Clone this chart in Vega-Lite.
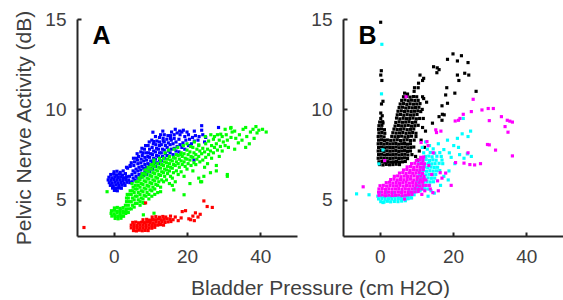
{
"$schema": "https://vega.github.io/schema/vega-lite/v6.json",
"padding": {"left": 13, "top": 9, "right": 0, "bottom": 0},
"bounds": "flush",
"spacing": 46,
"config": {
 "font": "Liberation Sans",
 "view": {"stroke": null},
 "axis": {"grid": false, "domainColor": "#262626", "domainWidth": 2, "tickColor": "#262626", "tickWidth": 2, "tickSize": -4, "labelColor": "#404040", "labelFontSize": 19, "titleColor": "#404040", "titleFontSize": 21, "titleFontWeight": "normal"}
},
"datasets": {
"a": [
{"s":"A1","x":0.1,"y":6.55},{"s":"A1","x":0.9,"y":6.58},{"s":"A1","x":1.8,"y":6.52},{"s":"A1","x":2.6,"y":6.6},
{"s":"A1","x":-0.8,"y":6.4},{"s":"A1","x":0.0,"y":6.43},{"s":"A1","x":0.8,"y":6.38},{"s":"A1","x":1.6,"y":6.42},{"s":"A1","x":2.4,"y":6.37},{"s":"A1","x":3.2,"y":6.45},
{"s":"A1","x":-1.3,"y":6.25},{"s":"A1","x":-0.5,"y":6.22},{"s":"A1","x":0.3,"y":6.27},{"s":"A1","x":1.1,"y":6.24},{"s":"A1","x":1.9,"y":6.26},{"s":"A1","x":2.7,"y":6.22},{"s":"A1","x":3.5,"y":6.28},{"s":"A1","x":4.3,"y":6.3},
{"s":"A1","x":-1.5,"y":6.1},{"s":"A1","x":-0.7,"y":6.08},{"s":"A1","x":0.1,"y":6.12},{"s":"A1","x":0.9,"y":6.09},{"s":"A1","x":1.7,"y":6.11},{"s":"A1","x":2.5,"y":6.07},{"s":"A1","x":3.3,"y":6.12},{"s":"A1","x":4.1,"y":6.1},
{"s":"A1","x":-1.2,"y":5.95},{"s":"A1","x":-0.4,"y":5.93},{"s":"A1","x":0.4,"y":5.97},{"s":"A1","x":1.2,"y":5.94},{"s":"A1","x":2.0,"y":5.96},{"s":"A1","x":2.8,"y":5.92},{"s":"A1","x":3.6,"y":5.97},{"s":"A1","x":4.4,"y":5.95},
{"s":"A1","x":-0.9,"y":5.8},{"s":"A1","x":-0.1,"y":5.78},{"s":"A1","x":0.7,"y":5.82},{"s":"A1","x":1.5,"y":5.79},{"s":"A1","x":2.3,"y":5.81},{"s":"A1","x":3.1,"y":5.8},
{"s":"A1","x":-0.3,"y":5.65},{"s":"A1","x":0.5,"y":5.63},{"s":"A1","x":1.3,"y":5.66},{"s":"A1","x":2.1,"y":5.64},
{"s":"A1","x":0.2,"y":5.52},{"s":"A1","x":1.0,"y":5.5},
{"s":"A1","x":5.0,"y":6.0},{"s":"A1","x":5.3,"y":6.2},{"s":"A1","x":5.0,"y":6.4},{"s":"A1","x":5.3,"y":6.6},
{"s":"A1","x":5.8,"y":6.1},{"s":"A1","x":6.1,"y":6.3},{"s":"A1","x":5.8,"y":6.5},{"s":"A1","x":6.1,"y":6.7},
{"s":"A1","x":6.6,"y":6.2},{"s":"A1","x":6.9,"y":6.4},{"s":"A1","x":6.6,"y":6.6},{"s":"A1","x":6.9,"y":6.8},{"s":"A1","x":6.6,"y":7.0},
{"s":"A1","x":7.4,"y":6.25},{"s":"A1","x":7.7,"y":6.45},{"s":"A1","x":7.4,"y":6.65},{"s":"A1","x":7.7,"y":6.85},{"s":"A1","x":7.4,"y":7.05},
{"s":"A1","x":8.2,"y":6.35},{"s":"A1","x":8.5,"y":6.55},{"s":"A1","x":8.2,"y":6.75},{"s":"A1","x":8.5,"y":6.95},{"s":"A1","x":8.2,"y":7.15},
{"s":"A1","x":9.0,"y":6.4},{"s":"A1","x":9.3,"y":6.6},{"s":"A1","x":9.0,"y":6.8},{"s":"A1","x":9.3,"y":7.0},{"s":"A1","x":9.0,"y":7.2},{"s":"A1","x":9.3,"y":7.4},
{"s":"A1","x":9.8,"y":6.55},{"s":"A1","x":10.1,"y":6.75},{"s":"A1","x":9.8,"y":6.95},{"s":"A1","x":10.1,"y":7.15},{"s":"A1","x":9.8,"y":7.35},{"s":"A1","x":10.1,"y":7.55},
{"s":"A1","x":10.6,"y":6.7},{"s":"A1","x":10.9,"y":6.9},{"s":"A1","x":10.6,"y":7.1},{"s":"A1","x":10.9,"y":7.3},{"s":"A1","x":10.6,"y":7.5},{"s":"A1","x":10.9,"y":7.7},
{"s":"A1","x":11.4,"y":6.85},{"s":"A1","x":11.7,"y":7.05},{"s":"A1","x":11.4,"y":7.25},{"s":"A1","x":11.7,"y":7.45},{"s":"A1","x":11.4,"y":7.65},{"s":"A1","x":11.7,"y":7.85},
{"s":"A1","x":12.2,"y":7.0},{"s":"A1","x":12.5,"y":7.2},{"s":"A1","x":12.2,"y":7.4},{"s":"A1","x":12.5,"y":7.6},{"s":"A1","x":12.2,"y":7.8},{"s":"A1","x":12.5,"y":8.0},
{"s":"A1","x":13.0,"y":7.15},{"s":"A1","x":13.3,"y":7.4},{"s":"A1","x":13.0,"y":7.6},{"s":"A1","x":13.3,"y":7.8},{"s":"A1","x":13.0,"y":8.05},
{"s":"A1","x":13.8,"y":7.3},{"s":"A1","x":14.1,"y":7.55},{"s":"A1","x":13.8,"y":7.75},{"s":"A1","x":14.1,"y":8.0},{"s":"A1","x":13.8,"y":8.2},
{"s":"A1","x":14.6,"y":7.45},{"s":"A1","x":14.9,"y":7.7},{"s":"A1","x":14.6,"y":7.9},{"s":"A1","x":14.9,"y":8.15},
{"s":"A1","x":15.4,"y":7.6},{"s":"A1","x":15.7,"y":7.8},{"s":"A1","x":15.4,"y":8.05},{"s":"A1","x":15.7,"y":8.3},
{"s":"A1","x":16.2,"y":7.5},{"s":"A1","x":16.5,"y":7.85},{"s":"A1","x":16.2,"y":8.1},{"s":"A1","x":16.5,"y":8.4},
{"s":"A1","x":17.0,"y":7.7},{"s":"A1","x":17.3,"y":7.95},{"s":"A1","x":17.0,"y":8.2},
{"s":"A1","x":17.8,"y":7.65},{"s":"A1","x":18.1,"y":8.05},{"s":"A1","x":17.8,"y":8.35},{"s":"A1","x":18.1,"y":8.6},
{"s":"A1","x":18.6,"y":7.9},{"s":"A1","x":18.9,"y":8.15},{"s":"A1","x":18.6,"y":8.75},
{"s":"A1","x":19.4,"y":7.8},{"s":"A1","x":19.7,"y":8.3},{"s":"A1","x":19.4,"y":8.5},
{"s":"A1","x":20.4,"y":8.0},{"s":"A1","x":20.7,"y":8.35},{"s":"A1","x":20.4,"y":8.6},
{"s":"A1","x":21.2,"y":8.1},{"s":"A1","x":21.5,"y":8.45},
{"s":"A1","x":22.0,"y":8.25},{"s":"A1","x":22.3,"y":8.55},{"s":"A1","x":22.0,"y":8.8},
{"s":"A1","x":23.0,"y":8.3},{"s":"A1","x":23.3,"y":8.5},
{"s":"A1","x":24.0,"y":9.1},{"s":"A1","x":24.3,"y":8.6},{"s":"A1","x":24.0,"y":8.85},
{"s":"A1","x":24.8,"y":8.2},{"s":"A1","x":25.1,"y":8.45},{"s":"A1","x":28.6,"y":9.0},
{"s":"A1","x":10.7,"y":8.74},{"s":"A1","x":11.0,"y":8.22},{"s":"A1","x":13.5,"y":8.4},{"s":"A1","x":19.0,"y":8.85},{"s":"A1","x":21.9,"y":7.2},{"s":"A1","x":8.0,"y":7.6},{"s":"A1","x":6.2,"y":7.3},{"s":"A1","x":12.5,"y":8.45},{"s":"A1","x":15.5,"y":8.55},{"s":"A1","x":17.3,"y":8.7},{"s":"A1","x":4.5,"y":6.9},{"s":"A1","x":3.8,"y":6.75},
{"s":"A1","x":3.5,"y":6.8},{"s":"A1","x":4.5,"y":6.85},{"s":"A1","x":4.8,"y":7.05},{"s":"A1","x":5.5,"y":6.9},{"s":"A1","x":5.7,"y":7.1},{"s":"A1","x":5.4,"y":7.3},
{"s":"A1","x":6.5,"y":7.2},{"s":"A1","x":6.8,"y":7.4},{"s":"A1","x":6.4,"y":7.55},{"s":"A1","x":7.5,"y":7.25},{"s":"A1","x":7.8,"y":7.45},{"s":"A1","x":7.4,"y":7.65},{"s":"A1","x":7.7,"y":7.85},
{"s":"A1","x":8.5,"y":7.35},{"s":"A1","x":8.8,"y":7.6},{"s":"A1","x":8.4,"y":7.8},{"s":"A1","x":8.7,"y":8.0},
{"s":"A1","x":9.5,"y":7.6},{"s":"A1","x":9.8,"y":7.8},{"s":"A1","x":9.4,"y":8.0},{"s":"A1","x":9.7,"y":8.2},
{"s":"A1","x":10.5,"y":7.9},{"s":"A1","x":10.8,"y":8.1},{"s":"A1","x":10.4,"y":8.3},{"s":"A1","x":11.5,"y":8.05},{"s":"A1","x":11.8,"y":8.25},{"s":"A1","x":11.4,"y":8.5},
{"s":"A1","x":12.5,"y":8.2},{"s":"A1","x":12.8,"y":8.6},{"s":"A1","x":13.5,"y":8.25},{"s":"A1","x":13.8,"y":8.6},{"s":"A1","x":13.4,"y":8.8},
{"s":"A1","x":14.5,"y":8.35},{"s":"A1","x":14.8,"y":8.55},{"s":"A1","x":15.5,"y":8.4},{"s":"A1","x":15.8,"y":8.75},{"s":"A1","x":16.5,"y":8.6},{"s":"A1","x":16.8,"y":8.9},{"s":"A1","x":18.0,"y":8.8},{"s":"A1","x":20.0,"y":8.75},

{"s":"A2","x":0.2,"y":4.55},{"s":"A2","x":1.0,"y":4.58},{"s":"A2","x":1.8,"y":4.53},{"s":"A2","x":2.6,"y":4.57},
{"s":"A2","x":-0.6,"y":4.4},{"s":"A2","x":0.2,"y":4.42},{"s":"A2","x":1.0,"y":4.38},{"s":"A2","x":1.8,"y":4.41},{"s":"A2","x":2.6,"y":4.39},{"s":"A2","x":3.4,"y":4.43},
{"s":"A2","x":-0.7,"y":4.25},{"s":"A2","x":0.1,"y":4.23},{"s":"A2","x":0.9,"y":4.27},{"s":"A2","x":1.7,"y":4.24},{"s":"A2","x":2.5,"y":4.26},{"s":"A2","x":3.3,"y":4.25},
{"s":"A2","x":-0.5,"y":4.1},{"s":"A2","x":0.3,"y":4.12},{"s":"A2","x":1.1,"y":4.08},{"s":"A2","x":1.9,"y":4.11},{"s":"A2","x":2.7,"y":4.09},
{"s":"A2","x":0.4,"y":3.97},{"s":"A2","x":1.2,"y":3.95},{"s":"A2","x":2.0,"y":3.98},
{"s":"A2","x":3.2,"y":4.3},{"s":"A2","x":3.5,"y":4.5},{"s":"A2","x":3.2,"y":4.7},{"s":"A2","x":3.5,"y":4.9},
{"s":"A2","x":4.0,"y":4.3},{"s":"A2","x":4.3,"y":4.5},{"s":"A2","x":4.0,"y":4.7},{"s":"A2","x":4.3,"y":4.9},{"s":"A2","x":4.0,"y":5.1},
{"s":"A2","x":4.8,"y":4.5},{"s":"A2","x":5.1,"y":4.7},{"s":"A2","x":4.8,"y":4.9},{"s":"A2","x":5.1,"y":5.1},{"s":"A2","x":4.8,"y":5.3},
{"s":"A2","x":5.6,"y":4.6},{"s":"A2","x":5.9,"y":4.8},{"s":"A2","x":5.6,"y":5.0},{"s":"A2","x":5.9,"y":5.2},{"s":"A2","x":5.6,"y":5.4},{"s":"A2","x":5.9,"y":5.6},
{"s":"A2","x":6.4,"y":4.8},{"s":"A2","x":6.7,"y":5.0},{"s":"A2","x":6.4,"y":5.2},{"s":"A2","x":6.7,"y":5.4},{"s":"A2","x":6.4,"y":5.6},{"s":"A2","x":6.7,"y":5.8},
{"s":"A2","x":7.2,"y":4.9},{"s":"A2","x":7.5,"y":5.1},{"s":"A2","x":7.2,"y":5.3},{"s":"A2","x":7.5,"y":5.5},{"s":"A2","x":7.2,"y":5.7},{"s":"A2","x":7.5,"y":5.9},{"s":"A2","x":7.2,"y":6.1},
{"s":"A2","x":8.0,"y":5.05},{"s":"A2","x":8.3,"y":5.25},{"s":"A2","x":8.0,"y":5.45},{"s":"A2","x":8.3,"y":5.65},{"s":"A2","x":8.0,"y":5.85},{"s":"A2","x":8.3,"y":6.05},{"s":"A2","x":8.0,"y":6.25},
{"s":"A2","x":8.8,"y":5.2},{"s":"A2","x":9.1,"y":5.4},{"s":"A2","x":8.8,"y":5.6},{"s":"A2","x":9.1,"y":5.8},{"s":"A2","x":8.8,"y":6.0},{"s":"A2","x":9.1,"y":6.2},{"s":"A2","x":8.8,"y":6.4},
{"s":"A2","x":9.6,"y":5.3},{"s":"A2","x":9.9,"y":5.55},{"s":"A2","x":9.6,"y":5.75},{"s":"A2","x":9.9,"y":5.95},{"s":"A2","x":9.6,"y":6.15},{"s":"A2","x":9.9,"y":6.35},{"s":"A2","x":9.6,"y":6.55},
{"s":"A2","x":10.4,"y":5.5},{"s":"A2","x":10.7,"y":5.7},{"s":"A2","x":10.4,"y":5.9},{"s":"A2","x":10.7,"y":6.1},{"s":"A2","x":10.4,"y":6.3},{"s":"A2","x":10.7,"y":6.5},{"s":"A2","x":10.4,"y":6.7},
{"s":"A2","x":11.2,"y":5.6},{"s":"A2","x":11.5,"y":5.85},{"s":"A2","x":11.2,"y":6.05},{"s":"A2","x":11.5,"y":6.25},{"s":"A2","x":11.2,"y":6.45},{"s":"A2","x":11.5,"y":6.65},{"s":"A2","x":11.2,"y":6.85},
{"s":"A2","x":12.0,"y":5.8},{"s":"A2","x":12.3,"y":6.0},{"s":"A2","x":12.0,"y":6.2},{"s":"A2","x":12.3,"y":6.4},{"s":"A2","x":12.0,"y":6.6},{"s":"A2","x":12.3,"y":6.8},{"s":"A2","x":12.0,"y":7.0},
{"s":"A2","x":12.8,"y":5.7},{"s":"A2","x":13.1,"y":6.1},{"s":"A2","x":12.8,"y":6.35},{"s":"A2","x":13.1,"y":6.55},{"s":"A2","x":12.8,"y":6.75},{"s":"A2","x":13.1,"y":6.95},{"s":"A2","x":12.8,"y":7.15},
{"s":"A2","x":13.6,"y":6.0},{"s":"A2","x":13.9,"y":6.3},{"s":"A2","x":13.6,"y":6.5},{"s":"A2","x":13.9,"y":6.7},{"s":"A2","x":13.6,"y":6.9},{"s":"A2","x":13.9,"y":7.1},{"s":"A2","x":13.6,"y":7.3},
{"s":"A2","x":14.4,"y":6.1},{"s":"A2","x":14.7,"y":6.45},{"s":"A2","x":14.4,"y":6.65},{"s":"A2","x":14.7,"y":6.85},{"s":"A2","x":14.4,"y":7.05},{"s":"A2","x":14.7,"y":7.25},
{"s":"A2","x":15.2,"y":5.9},{"s":"A2","x":15.5,"y":6.3},{"s":"A2","x":15.2,"y":6.6},{"s":"A2","x":15.5,"y":6.8},{"s":"A2","x":15.2,"y":7.0},{"s":"A2","x":15.5,"y":7.2},{"s":"A2","x":15.2,"y":7.4},
{"s":"A2","x":16.0,"y":6.2},{"s":"A2","x":16.3,"y":6.5},{"s":"A2","x":16.0,"y":6.75},{"s":"A2","x":16.3,"y":6.95},{"s":"A2","x":16.0,"y":7.15},{"s":"A2","x":16.3,"y":7.35},
{"s":"A2","x":16.8,"y":6.0},{"s":"A2","x":17.1,"y":6.6},{"s":"A2","x":16.8,"y":6.9},{"s":"A2","x":17.1,"y":7.1},{"s":"A2","x":16.8,"y":7.3},{"s":"A2","x":17.1,"y":7.5},
{"s":"A2","x":17.6,"y":6.4},{"s":"A2","x":17.9,"y":6.8},{"s":"A2","x":17.6,"y":7.0},{"s":"A2","x":17.9,"y":7.25},{"s":"A2","x":17.6,"y":7.45},
{"s":"A2","x":18.4,"y":6.55},{"s":"A2","x":18.7,"y":6.95},{"s":"A2","x":18.4,"y":7.15},{"s":"A2","x":18.7,"y":7.4},{"s":"A2","x":18.4,"y":7.6},
{"s":"A2","x":19.2,"y":6.3},{"s":"A2","x":19.5,"y":6.85},{"s":"A2","x":19.2,"y":7.1},{"s":"A2","x":19.5,"y":7.3},{"s":"A2","x":19.2,"y":7.55},
{"s":"A2","x":20.0,"y":6.7},{"s":"A2","x":20.3,"y":7.0},{"s":"A2","x":20.0,"y":7.25},{"s":"A2","x":20.3,"y":7.5},{"s":"A2","x":20.0,"y":7.75},
{"s":"A2","x":20.8,"y":5.9},{"s":"A2","x":21.1,"y":6.9},{"s":"A2","x":20.8,"y":7.2},{"s":"A2","x":21.1,"y":7.4},{"s":"A2","x":20.8,"y":7.65},
{"s":"A2","x":21.6,"y":6.6},{"s":"A2","x":21.9,"y":7.05},{"s":"A2","x":21.6,"y":7.35},{"s":"A2","x":21.9,"y":7.6},{"s":"A2","x":21.6,"y":7.9},
{"s":"A2","x":22.4,"y":6.95},{"s":"A2","x":22.7,"y":7.25},{"s":"A2","x":22.4,"y":7.5},{"s":"A2","x":22.7,"y":7.8},
{"s":"A2","x":23.2,"y":6.2},{"s":"A2","x":23.5,"y":7.1},{"s":"A2","x":23.2,"y":7.4},{"s":"A2","x":23.5,"y":7.7},{"s":"A2","x":23.2,"y":8.0},
{"s":"A2","x":24.0,"y":6.0},{"s":"A2","x":24.3,"y":7.2},{"s":"A2","x":24.0,"y":7.55},{"s":"A2","x":24.3,"y":7.85},
{"s":"A2","x":24.8,"y":6.8},{"s":"A2","x":25.1,"y":7.35},{"s":"A2","x":24.8,"y":7.65},{"s":"A2","x":25.1,"y":8.1},
{"s":"A2","x":25.6,"y":7.0},{"s":"A2","x":25.9,"y":7.5},{"s":"A2","x":25.6,"y":7.8},{"s":"A2","x":25.9,"y":8.25},
{"s":"A2","x":26.4,"y":6.5},{"s":"A2","x":26.7,"y":7.3},{"s":"A2","x":26.4,"y":7.7},{"s":"A2","x":26.7,"y":8.0},
{"s":"A2","x":27.2,"y":7.6},{"s":"A2","x":27.5,"y":7.9},{"s":"A2","x":27.2,"y":8.35},
{"s":"A2","x":28.0,"y":6.9},{"s":"A2","x":28.3,"y":7.75},{"s":"A2","x":28.0,"y":8.1},{"s":"A2","x":28.3,"y":8.6},
{"s":"A2","x":28.8,"y":7.4},{"s":"A2","x":29.1,"y":7.95},{"s":"A2","x":28.8,"y":8.3},
{"s":"A2","x":29.6,"y":7.7},{"s":"A2","x":29.9,"y":8.2},{"s":"A2","x":29.6,"y":8.5},
{"s":"A2","x":30.4,"y":8.0},{"s":"A2","x":30.7,"y":8.6},{"s":"A2","x":30.4,"y":8.9},
{"s":"A2","x":31.0,"y":6.4},{"s":"A2","x":31.3,"y":7.9},{"s":"A2","x":31.0,"y":8.3},
{"s":"A2","x":32.0,"y":8.45},{"s":"A2","x":32.3,"y":8.75},{"s":"A2","x":32.0,"y":9.0},
{"s":"A2","x":33.0,"y":7.8},{"s":"A2","x":33.3,"y":8.4},{"s":"A2","x":33.0,"y":8.8},
{"s":"A2","x":34.0,"y":8.15},{"s":"A2","x":34.3,"y":8.6},{"s":"A2","x":35.0,"y":8.3},{"s":"A2","x":35.3,"y":8.9},
{"s":"A2","x":36.0,"y":7.9},{"s":"A2","x":36.3,"y":8.5},{"s":"A2","x":36.0,"y":9.0},
{"s":"A2","x":37.0,"y":8.1},{"s":"A2","x":37.3,"y":8.75},{"s":"A2","x":38.0,"y":8.9},{"s":"A2","x":38.3,"y":8.4},
{"s":"A2","x":38.8,"y":9.05},{"s":"A2","x":39.1,"y":8.7},{"s":"A2","x":39.6,"y":8.85},{"s":"A2","x":40.6,"y":8.9},{"s":"A2","x":41.6,"y":8.75},
{"s":"A2","x":-1.8,"y":5.45},{"s":"A2","x":8.1,"y":4.17},{"s":"A2","x":8.3,"y":4.8},{"s":"A2","x":11.0,"y":4.26},{"s":"A2","x":16.4,"y":5.55},{"s":"A2","x":16.0,"y":5.8},{"s":"A2","x":19.2,"y":5.28},{"s":"A2","x":23.7,"y":6.0},{"s":"A2","x":24.6,"y":6.3},{"s":"A2","x":31.0,"y":6.3},{"s":"A2","x":28.0,"y":6.6},{"s":"A2","x":21.0,"y":7.95},{"s":"A2","x":23.2,"y":8.04},{"s":"A2","x":18.3,"y":7.5},{"s":"A2","x":29.2,"y":8.63},{"s":"A2","x":27.5,"y":8.5},{"s":"A2","x":31.9,"y":8.96},
{"s":"A2","x":14.0,"y":7.6},{"s":"A2","x":15.0,"y":7.75},{"s":"A2","x":16.5,"y":7.8},{"s":"A2","x":17.5,"y":7.9},{"s":"A2","x":19.0,"y":8.0},{"s":"A2","x":20.0,"y":8.1},{"s":"A2","x":22.0,"y":8.2},{"s":"A2","x":25.0,"y":8.5},{"s":"A2","x":26.5,"y":8.6},{"s":"A2","x":12.5,"y":7.3},{"s":"A2","x":11.0,"y":7.2},
{"s":"A2","x":3.5,"y":5.1},{"s":"A2","x":3.7,"y":5.3},{"s":"A2","x":4.3,"y":5.3},{"s":"A2","x":4.5,"y":5.5},{"s":"A2","x":5.1,"y":5.5},{"s":"A2","x":5.3,"y":5.7},{"s":"A2","x":5.0,"y":5.9},
{"s":"A2","x":5.9,"y":5.8},{"s":"A2","x":6.1,"y":6.0},{"s":"A2","x":6.7,"y":6.0},{"s":"A2","x":6.9,"y":6.2},{"s":"A2","x":7.5,"y":6.3},{"s":"A2","x":7.8,"y":6.45},
{"s":"A2","x":8.3,"y":6.45},{"s":"A2","x":8.6,"y":6.65},{"s":"A2","x":9.1,"y":6.6},{"s":"A2","x":9.4,"y":6.8},{"s":"A2","x":9.9,"y":6.75},{"s":"A2","x":10.2,"y":6.95},{"s":"A2","x":10.7,"y":6.9},{"s":"A2","x":11.0,"y":7.05},
{"s":"A2","x":7.2,"y":4.7},{"s":"A2","x":8.0,"y":4.85},{"s":"A2","x":9.6,"y":5.05},{"s":"A2","x":10.4,"y":5.2},{"s":"A2","x":11.2,"y":5.3},{"s":"A2","x":12.0,"y":5.4},{"s":"A2","x":12.8,"y":5.45},

{"s":"A3","x":5.4,"y":3.3},{"s":"A3","x":6.2,"y":3.28},{"s":"A3","x":7.0,"y":3.32},{"s":"A3","x":7.8,"y":3.29},{"s":"A3","x":8.6,"y":3.31},{"s":"A3","x":9.4,"y":3.3},
{"s":"A3","x":4.8,"y":3.45},{"s":"A3","x":5.6,"y":3.47},{"s":"A3","x":6.4,"y":3.43},{"s":"A3","x":7.2,"y":3.46},{"s":"A3","x":8.0,"y":3.44},{"s":"A3","x":8.8,"y":3.47},{"s":"A3","x":9.6,"y":3.45},{"s":"A3","x":10.4,"y":3.43},{"s":"A3","x":11.2,"y":3.48},
{"s":"A3","x":4.8,"y":3.6},{"s":"A3","x":5.6,"y":3.62},{"s":"A3","x":6.4,"y":3.58},{"s":"A3","x":7.2,"y":3.61},{"s":"A3","x":8.0,"y":3.59},{"s":"A3","x":8.8,"y":3.62},{"s":"A3","x":9.6,"y":3.6},{"s":"A3","x":10.4,"y":3.58},{"s":"A3","x":11.2,"y":3.62},{"s":"A3","x":12.0,"y":3.6},{"s":"A3","x":12.8,"y":3.63},{"s":"A3","x":13.6,"y":3.6},
{"s":"A3","x":5.2,"y":3.75},{"s":"A3","x":6.0,"y":3.77},{"s":"A3","x":6.8,"y":3.73},{"s":"A3","x":7.6,"y":3.76},{"s":"A3","x":8.4,"y":3.74},{"s":"A3","x":9.2,"y":3.77},{"s":"A3","x":10.0,"y":3.75},{"s":"A3","x":10.8,"y":3.73},{"s":"A3","x":11.6,"y":3.77},{"s":"A3","x":12.4,"y":3.75},{"s":"A3","x":13.2,"y":3.78},{"s":"A3","x":14.0,"y":3.75},{"s":"A3","x":14.8,"y":3.78},{"s":"A3","x":15.6,"y":3.8},
{"s":"A3","x":8.0,"y":3.9},{"s":"A3","x":9.0,"y":3.92},{"s":"A3","x":9.8,"y":3.88},{"s":"A3","x":10.6,"y":3.91},{"s":"A3","x":11.4,"y":3.9},{"s":"A3","x":12.2,"y":3.93},{"s":"A3","x":13.0,"y":3.9},{"s":"A3","x":13.8,"y":3.92},{"s":"A3","x":14.6,"y":3.95},{"s":"A3","x":15.4,"y":3.93},{"s":"A3","x":16.2,"y":3.9},
{"s":"A3","x":10.5,"y":4.05},{"s":"A3","x":11.5,"y":4.07},{"s":"A3","x":12.5,"y":4.04},{"s":"A3","x":13.4,"y":4.08},{"s":"A3","x":14.2,"y":4.05},{"s":"A3","x":15.5,"y":4.1},{"s":"A3","x":16.8,"y":4.05},
{"s":"A3","x":17.6,"y":3.85},{"s":"A3","x":18.4,"y":4.0},{"s":"A3","x":18.7,"y":4.35},{"s":"A3","x":19.6,"y":4.4},{"s":"A3","x":20.5,"y":3.95},{"s":"A3","x":21.0,"y":3.9},{"s":"A3","x":21.6,"y":4.1},{"s":"A3","x":22.3,"y":4.28},{"s":"A3","x":23.0,"y":4.05},{"s":"A3","x":23.6,"y":4.2},{"s":"A3","x":24.6,"y":4.94},{"s":"A3","x":25.5,"y":4.63},{"s":"A3","x":26.9,"y":4.58},{"s":"A3","x":22.0,"y":3.85},
{"s":"A3","x":-8.1,"y":3.47},{"s":"A3","x":8.7,"y":4.83}
],
"b": [
{"s":"B1","x":6.5,"y":10.7},{"s":"B1","x":7.4,"y":10.72},{"s":"B1","x":8.3,"y":10.68},{"s":"B1","x":9.2,"y":10.71},{"s":"B1","x":10.1,"y":10.7},
{"s":"B1","x":6.0,"y":10.5},{"s":"B1","x":6.9,"y":10.52},{"s":"B1","x":7.8,"y":10.48},{"s":"B1","x":8.7,"y":10.51},{"s":"B1","x":9.6,"y":10.49},{"s":"B1","x":10.5,"y":10.5},
{"s":"B1","x":5.6,"y":10.3},{"s":"B1","x":6.5,"y":10.32},{"s":"B1","x":7.4,"y":10.28},{"s":"B1","x":8.3,"y":10.31},{"s":"B1","x":9.2,"y":10.29},{"s":"B1","x":10.1,"y":10.3},{"s":"B1","x":11.0,"y":10.32},
{"s":"B1","x":5.3,"y":10.1},{"s":"B1","x":6.2,"y":10.12},{"s":"B1","x":7.1,"y":10.08},{"s":"B1","x":8.0,"y":10.11},{"s":"B1","x":8.9,"y":10.09},{"s":"B1","x":9.8,"y":10.1},{"s":"B1","x":10.7,"y":10.12},
{"s":"B1","x":5.0,"y":9.9},{"s":"B1","x":5.9,"y":9.92},{"s":"B1","x":6.8,"y":9.88},{"s":"B1","x":7.7,"y":9.91},{"s":"B1","x":8.6,"y":9.89},{"s":"B1","x":9.5,"y":9.9},{"s":"B1","x":10.4,"y":9.92},{"s":"B1","x":11.2,"y":9.88},
{"s":"B1","x":4.8,"y":9.7},{"s":"B1","x":5.7,"y":9.72},{"s":"B1","x":6.6,"y":9.68},{"s":"B1","x":7.5,"y":9.71},{"s":"B1","x":8.4,"y":9.69},{"s":"B1","x":9.3,"y":9.7},{"s":"B1","x":10.2,"y":9.72},
{"s":"B1","x":0.3,"y":9.5},{"s":"B1","x":4.6,"y":9.52},{"s":"B1","x":5.5,"y":9.48},{"s":"B1","x":6.4,"y":9.51},{"s":"B1","x":7.3,"y":9.49},{"s":"B1","x":8.2,"y":9.5},{"s":"B1","x":9.1,"y":9.52},{"s":"B1","x":10.0,"y":9.48},{"s":"B1","x":10.9,"y":9.5},
{"s":"B1","x":0.0,"y":9.3},{"s":"B1","x":0.8,"y":9.32},{"s":"B1","x":4.4,"y":9.28},{"s":"B1","x":5.3,"y":9.31},{"s":"B1","x":6.2,"y":9.29},{"s":"B1","x":7.1,"y":9.3},{"s":"B1","x":8.0,"y":9.32},{"s":"B1","x":8.9,"y":9.28},{"s":"B1","x":9.8,"y":9.3},
{"s":"B1","x":-0.2,"y":9.1},{"s":"B1","x":0.6,"y":9.12},{"s":"B1","x":4.2,"y":9.08},{"s":"B1","x":5.1,"y":9.11},{"s":"B1","x":6.0,"y":9.09},{"s":"B1","x":6.9,"y":9.1},{"s":"B1","x":7.8,"y":9.12},{"s":"B1","x":8.7,"y":9.08},{"s":"B1","x":9.6,"y":9.1},{"s":"B1","x":10.5,"y":9.12},
{"s":"B1","x":-0.3,"y":8.9},{"s":"B1","x":0.5,"y":8.92},{"s":"B1","x":1.3,"y":8.88},{"s":"B1","x":3.9,"y":8.91},{"s":"B1","x":4.8,"y":8.89},{"s":"B1","x":5.7,"y":8.9},{"s":"B1","x":6.6,"y":8.92},{"s":"B1","x":7.5,"y":8.88},{"s":"B1","x":8.4,"y":8.9},{"s":"B1","x":9.3,"y":8.92},
{"s":"B1","x":-0.2,"y":8.7},{"s":"B1","x":0.6,"y":8.72},{"s":"B1","x":1.4,"y":8.68},{"s":"B1","x":3.6,"y":8.71},{"s":"B1","x":4.5,"y":8.69},{"s":"B1","x":5.4,"y":8.7},{"s":"B1","x":6.3,"y":8.72},{"s":"B1","x":7.2,"y":8.68},{"s":"B1","x":8.1,"y":8.7},{"s":"B1","x":9.0,"y":8.72},{"s":"B1","x":9.9,"y":8.68},
{"s":"B1","x":-0.4,"y":8.5},{"s":"B1","x":0.4,"y":8.52},{"s":"B1","x":1.2,"y":8.48},{"s":"B1","x":3.3,"y":8.51},{"s":"B1","x":4.2,"y":8.49},{"s":"B1","x":5.1,"y":8.5},{"s":"B1","x":6.0,"y":8.52},{"s":"B1","x":6.9,"y":8.48},{"s":"B1","x":7.8,"y":8.5},{"s":"B1","x":8.7,"y":8.52},
{"s":"B1","x":-0.3,"y":8.3},{"s":"B1","x":0.5,"y":8.32},{"s":"B1","x":1.3,"y":8.28},{"s":"B1","x":2.1,"y":8.31},{"s":"B1","x":3.0,"y":8.29},{"s":"B1","x":3.9,"y":8.3},{"s":"B1","x":4.8,"y":8.32},{"s":"B1","x":5.7,"y":8.28},{"s":"B1","x":6.6,"y":8.3},{"s":"B1","x":7.5,"y":8.32},{"s":"B1","x":8.4,"y":8.28},{"s":"B1","x":9.4,"y":8.3},
{"s":"B1","x":-0.4,"y":8.1},{"s":"B1","x":0.4,"y":8.12},{"s":"B1","x":1.2,"y":8.08},{"s":"B1","x":2.0,"y":8.11},{"s":"B1","x":2.8,"y":8.09},{"s":"B1","x":3.6,"y":8.1},{"s":"B1","x":4.4,"y":8.12},{"s":"B1","x":5.2,"y":8.08},{"s":"B1","x":6.0,"y":8.1},{"s":"B1","x":6.8,"y":8.12},{"s":"B1","x":7.6,"y":8.08},{"s":"B1","x":8.4,"y":8.1},
{"s":"B1","x":-0.3,"y":7.9},{"s":"B1","x":0.5,"y":7.92},{"s":"B1","x":1.3,"y":7.88},{"s":"B1","x":2.1,"y":7.91},{"s":"B1","x":2.9,"y":7.89},{"s":"B1","x":3.7,"y":7.9},{"s":"B1","x":4.5,"y":7.92},{"s":"B1","x":5.3,"y":7.88},{"s":"B1","x":6.1,"y":7.9},{"s":"B1","x":6.9,"y":7.92},{"s":"B1","x":7.7,"y":7.88},{"s":"B1","x":8.5,"y":7.9},{"s":"B1","x":9.3,"y":7.92},
{"s":"B1","x":-0.4,"y":7.7},{"s":"B1","x":0.4,"y":7.72},{"s":"B1","x":1.2,"y":7.68},{"s":"B1","x":2.0,"y":7.71},{"s":"B1","x":2.8,"y":7.69},{"s":"B1","x":3.6,"y":7.7},{"s":"B1","x":4.4,"y":7.72},{"s":"B1","x":5.2,"y":7.68},{"s":"B1","x":6.0,"y":7.7},{"s":"B1","x":6.8,"y":7.72},{"s":"B1","x":7.6,"y":7.68},{"s":"B1","x":8.4,"y":7.7},
{"s":"B1","x":-0.3,"y":7.5},{"s":"B1","x":0.5,"y":7.52},{"s":"B1","x":1.3,"y":7.48},{"s":"B1","x":2.1,"y":7.51},{"s":"B1","x":2.9,"y":7.49},{"s":"B1","x":3.7,"y":7.5},{"s":"B1","x":4.5,"y":7.52},{"s":"B1","x":5.3,"y":7.48},{"s":"B1","x":6.1,"y":7.5},{"s":"B1","x":6.9,"y":7.52},{"s":"B1","x":7.7,"y":7.48},{"s":"B1","x":8.8,"y":7.5},
{"s":"B1","x":-0.4,"y":7.3},{"s":"B1","x":0.4,"y":7.32},{"s":"B1","x":1.2,"y":7.28},{"s":"B1","x":2.0,"y":7.31},{"s":"B1","x":2.8,"y":7.29},{"s":"B1","x":3.6,"y":7.3},{"s":"B1","x":4.4,"y":7.32},{"s":"B1","x":5.2,"y":7.28},{"s":"B1","x":6.0,"y":7.3},{"s":"B1","x":6.8,"y":7.32},{"s":"B1","x":7.6,"y":7.28},
{"s":"B1","x":-0.2,"y":7.1},{"s":"B1","x":0.6,"y":7.12},{"s":"B1","x":1.4,"y":7.08},{"s":"B1","x":2.2,"y":7.11},{"s":"B1","x":3.0,"y":7.09},{"s":"B1","x":3.8,"y":7.1},{"s":"B1","x":4.6,"y":7.12},{"s":"B1","x":5.4,"y":7.08},{"s":"B1","x":6.2,"y":7.1},{"s":"B1","x":7.0,"y":7.12},
{"s":"B1","x":0.0,"y":6.95},{"s":"B1","x":0.9,"y":6.93},{"s":"B1","x":1.8,"y":6.96},{"s":"B1","x":2.7,"y":6.94},{"s":"B1","x":3.6,"y":6.95},{"s":"B1","x":4.5,"y":6.97},{"s":"B1","x":5.4,"y":6.95},
{"s":"B1","x":0.27,"y":14.82},{"s":"B1","x":0.45,"y":12.14},{"s":"B1","x":0.3,"y":11.9},{"s":"B1","x":0.6,"y":11.6},{"s":"B1","x":0.9,"y":10.45},{"s":"B1","x":0.5,"y":10.3},{"s":"B1","x":0.3,"y":9.8},{"s":"B1","x":0.7,"y":9.65},{"s":"B1","x":0.9,"y":9.25},
{"s":"B1","x":20.0,"y":13.07},{"s":"B1","x":22.3,"y":12.97},{"s":"B1","x":18.5,"y":12.77},{"s":"B1","x":24.1,"y":12.59},{"s":"B1","x":21.2,"y":12.68},{"s":"B1","x":14.7,"y":12.36},{"s":"B1","x":15.7,"y":12.3},{"s":"B1","x":16.2,"y":12.2},{"s":"B1","x":15.6,"y":12.03},{"s":"B1","x":21.2,"y":11.9},{"s":"B1","x":23.2,"y":12.0},{"s":"B1","x":24.3,"y":11.9},{"s":"B1","x":21.6,"y":11.6},
{"s":"B1","x":11.0,"y":11.9},{"s":"B1","x":12.0,"y":11.72},{"s":"B1","x":11.7,"y":11.6},{"s":"B1","x":10.6,"y":11.45},{"s":"B1","x":9.5,"y":11.2},{"s":"B1","x":9.4,"y":11.0},{"s":"B1","x":10.5,"y":11.2},
{"s":"B1","x":18.3,"y":11.2},{"s":"B1","x":18.0,"y":10.8},{"s":"B1","x":20.5,"y":10.9},{"s":"B1","x":26.3,"y":11.0},{"s":"B1","x":18.5,"y":10.34},{"s":"B1","x":17.0,"y":10.2},{"s":"B1","x":17.1,"y":9.73},{"s":"B1","x":16.2,"y":9.6},{"s":"B1","x":14.4,"y":9.24},
{"s":"B1","x":12.0,"y":10.6},{"s":"B1","x":12.8,"y":10.4},{"s":"B1","x":6.8,"y":10.9},{"s":"B1","x":7.6,"y":10.85},{"s":"B1","x":11.7,"y":10.7},{"s":"B1","x":17.6,"y":9.7},{"s":"B1","x":17.0,"y":9.4},{"s":"B1","x":11.7,"y":9.0},{"s":"B1","x":9.9,"y":8.5},{"s":"B1","x":12.5,"y":8.8},{"s":"B1","x":11.3,"y":8.3},{"s":"B1","x":10.8,"y":7.7},{"s":"B1","x":9.8,"y":7.4},{"s":"B1","x":10.4,"y":7.2},{"s":"B1","x":12.2,"y":7.9},{"s":"B1","x":11.6,"y":10.0},{"s":"B1","x":11.9,"y":9.5},

{"s":"B2","x":0.3,"y":4.9},{"s":"B2","x":1.2,"y":4.88},{"s":"B2","x":2.1,"y":4.92},{"s":"B2","x":3.0,"y":4.89},{"s":"B2","x":4.0,"y":4.91},{"s":"B2","x":5.0,"y":4.9},{"s":"B2","x":6.0,"y":4.93},{"s":"B2","x":7.0,"y":4.95},
{"s":"B2","x":-0.3,"y":5.05},{"s":"B2","x":0.6,"y":5.07},{"s":"B2","x":1.5,"y":5.03},{"s":"B2","x":2.4,"y":5.06},{"s":"B2","x":3.3,"y":5.04},{"s":"B2","x":4.2,"y":5.05},{"s":"B2","x":5.1,"y":5.07},{"s":"B2","x":6.0,"y":5.03},{"s":"B2","x":6.9,"y":5.06},{"s":"B2","x":7.8,"y":5.08},{"s":"B2","x":8.7,"y":5.1},
{"s":"B2","x":-0.5,"y":5.2},{"s":"B2","x":0.4,"y":5.22},{"s":"B2","x":1.3,"y":5.18},{"s":"B2","x":2.2,"y":5.21},{"s":"B2","x":3.1,"y":5.19},{"s":"B2","x":4.0,"y":5.2},{"s":"B2","x":4.9,"y":5.22},{"s":"B2","x":5.8,"y":5.18},{"s":"B2","x":6.7,"y":5.21},{"s":"B2","x":7.6,"y":5.23},{"s":"B2","x":8.5,"y":5.25},{"s":"B2","x":9.4,"y":5.28},
{"s":"B2","x":0.0,"y":5.4},{"s":"B2","x":2.0,"y":5.42},{"s":"B2","x":4.0,"y":5.4},{"s":"B2","x":6.0,"y":5.43},{"s":"B2","x":8.0,"y":5.45},{"s":"B2","x":9.0,"y":5.42},{"s":"B2","x":10.0,"y":5.45},{"s":"B2","x":11.0,"y":5.5},
{"s":"B2","x":9.5,"y":5.6},{"s":"B2","x":10.4,"y":5.62},{"s":"B2","x":11.3,"y":5.58},{"s":"B2","x":12.2,"y":5.61},{"s":"B2","x":13.1,"y":5.6},
{"s":"B2","x":10.0,"y":5.8},{"s":"B2","x":10.9,"y":5.82},{"s":"B2","x":11.8,"y":5.78},{"s":"B2","x":12.7,"y":5.81},{"s":"B2","x":13.6,"y":5.8},
{"s":"B2","x":10.2,"y":6.0},{"s":"B2","x":11.1,"y":6.02},{"s":"B2","x":12.0,"y":5.98},{"s":"B2","x":12.9,"y":6.01},{"s":"B2","x":13.8,"y":5.99},{"s":"B2","x":14.7,"y":6.0},
{"s":"B2","x":10.5,"y":6.2},{"s":"B2","x":11.4,"y":6.22},{"s":"B2","x":12.3,"y":6.18},{"s":"B2","x":13.2,"y":6.21},{"s":"B2","x":14.1,"y":6.19},{"s":"B2","x":15.0,"y":6.2},
{"s":"B2","x":10.8,"y":6.4},{"s":"B2","x":11.7,"y":6.42},{"s":"B2","x":12.6,"y":6.38},{"s":"B2","x":13.5,"y":6.41},{"s":"B2","x":14.4,"y":6.39},{"s":"B2","x":15.3,"y":6.4},
{"s":"B2","x":11.0,"y":6.6},{"s":"B2","x":11.9,"y":6.62},{"s":"B2","x":12.8,"y":6.58},{"s":"B2","x":13.7,"y":6.61},{"s":"B2","x":14.6,"y":6.59},{"s":"B2","x":15.5,"y":6.6},{"s":"B2","x":16.4,"y":6.62},
{"s":"B2","x":11.3,"y":6.8},{"s":"B2","x":12.2,"y":6.82},{"s":"B2","x":13.1,"y":6.78},{"s":"B2","x":14.0,"y":6.81},{"s":"B2","x":14.9,"y":6.79},{"s":"B2","x":15.8,"y":6.8},
{"s":"B2","x":10.6,"y":7.0},{"s":"B2","x":11.5,"y":7.02},{"s":"B2","x":12.4,"y":6.98},{"s":"B2","x":13.3,"y":7.01},{"s":"B2","x":14.2,"y":6.99},{"s":"B2","x":15.1,"y":7.0},{"s":"B2","x":16.2,"y":7.02},
{"s":"B2","x":11.8,"y":7.2},{"s":"B2","x":12.7,"y":7.22},{"s":"B2","x":13.6,"y":7.18},{"s":"B2","x":14.5,"y":7.21},{"s":"B2","x":15.4,"y":7.19},{"s":"B2","x":17.0,"y":7.2},
{"s":"B2","x":12.5,"y":7.4},{"s":"B2","x":13.4,"y":7.42},{"s":"B2","x":14.3,"y":7.38},{"s":"B2","x":15.6,"y":7.41},{"s":"B2","x":16.8,"y":7.4},
{"s":"B2","x":12.0,"y":7.6},{"s":"B2","x":13.8,"y":7.62},{"s":"B2","x":15.0,"y":7.58},{"s":"B2","x":16.4,"y":7.61},{"s":"B2","x":19.0,"y":7.6},
{"s":"B2","x":13.0,"y":7.8},{"s":"B2","x":14.6,"y":7.82},{"s":"B2","x":17.5,"y":7.78},
{"s":"B2","x":22.5,"y":8.65},{"s":"B2","x":24.1,"y":8.5},{"s":"B2","x":18.5,"y":8.3},{"s":"B2","x":21.5,"y":7.9},{"s":"B2","x":20.2,"y":8.0},{"s":"B2","x":19.5,"y":7.35},{"s":"B2","x":23.0,"y":7.3},{"s":"B2","x":21.8,"y":7.5},{"s":"B2","x":18.7,"y":6.1},{"s":"B2","x":18.9,"y":6.6},{"s":"B2","x":17.5,"y":6.3},{"s":"B2","x":16.6,"y":5.8},{"s":"B2","x":14.9,"y":5.37},{"s":"B2","x":14.0,"y":5.5},{"s":"B2","x":13.2,"y":5.2},{"s":"B2","x":7.7,"y":5.06},{"s":"B2","x":0.9,"y":4.85},
{"s":"B2","x":-6.3,"y":5.33},{"s":"B2","x":-2.9,"y":5.28},{"s":"B2","x":0.6,"y":13.6},{"s":"B2","x":0.5,"y":10.86},{"s":"B2","x":0.9,"y":7.76},{"s":"B2","x":-0.2,"y":6.99},{"s":"B2","x":22.8,"y":9.5},{"s":"B2","x":16.0,"y":8.1},{"s":"B2","x":17.2,"y":7.0},{"s":"B2","x":20.5,"y":7.0},{"s":"B2","x":12.5,"y":8.2},{"s":"B2","x":13.6,"y":8.0},{"s":"B2","x":11.6,"y":7.9},{"s":"B2","x":21.2,"y":8.4},{"s":"B2","x":23.9,"y":7.54},{"s":"B2","x":25.0,"y":7.4},{"s":"B2","x":24.8,"y":8.8},

{"s":"B3","x":-0.2,"y":5.25},{"s":"B3","x":0.7,"y":5.27},{"s":"B3","x":1.6,"y":5.23},{"s":"B3","x":2.5,"y":5.26},{"s":"B3","x":3.4,"y":5.24},{"s":"B3","x":4.3,"y":5.25},{"s":"B3","x":5.2,"y":5.27},{"s":"B3","x":6.1,"y":5.23},{"s":"B3","x":7.0,"y":5.26},{"s":"B3","x":7.9,"y":5.28},{"s":"B3","x":8.8,"y":5.3},
{"s":"B3","x":-0.3,"y":5.42},{"s":"B3","x":0.6,"y":5.44},{"s":"B3","x":1.5,"y":5.4},{"s":"B3","x":2.4,"y":5.43},{"s":"B3","x":3.3,"y":5.41},{"s":"B3","x":4.2,"y":5.42},{"s":"B3","x":5.1,"y":5.44},{"s":"B3","x":6.0,"y":5.4},{"s":"B3","x":6.9,"y":5.43},{"s":"B3","x":7.8,"y":5.41},{"s":"B3","x":8.7,"y":5.42},{"s":"B3","x":9.6,"y":5.44},{"s":"B3","x":10.5,"y":5.46},
{"s":"B3","x":-0.2,"y":5.6},{"s":"B3","x":0.7,"y":5.62},{"s":"B3","x":1.6,"y":5.58},{"s":"B3","x":2.5,"y":5.61},{"s":"B3","x":3.4,"y":5.59},{"s":"B3","x":4.3,"y":5.6},{"s":"B3","x":5.2,"y":5.62},{"s":"B3","x":6.1,"y":5.58},{"s":"B3","x":7.0,"y":5.61},{"s":"B3","x":7.9,"y":5.59},{"s":"B3","x":8.8,"y":5.6},{"s":"B3","x":9.7,"y":5.62},{"s":"B3","x":10.6,"y":5.58},{"s":"B3","x":11.5,"y":5.61},
{"s":"B3","x":0.1,"y":5.78},{"s":"B3","x":1.0,"y":5.8},{"s":"B3","x":1.9,"y":5.76},{"s":"B3","x":2.8,"y":5.79},{"s":"B3","x":3.7,"y":5.77},{"s":"B3","x":4.6,"y":5.78},{"s":"B3","x":5.5,"y":5.8},{"s":"B3","x":6.4,"y":5.76},{"s":"B3","x":7.3,"y":5.79},{"s":"B3","x":8.2,"y":5.77},{"s":"B3","x":9.1,"y":5.78},{"s":"B3","x":10.0,"y":5.8},{"s":"B3","x":10.9,"y":5.76},{"s":"B3","x":11.8,"y":5.79},
{"s":"B3","x":1.8,"y":5.95},{"s":"B3","x":2.7,"y":5.97},{"s":"B3","x":3.6,"y":5.93},{"s":"B3","x":4.5,"y":5.96},{"s":"B3","x":5.4,"y":5.94},{"s":"B3","x":6.3,"y":5.95},{"s":"B3","x":7.2,"y":5.97},{"s":"B3","x":8.1,"y":5.93},{"s":"B3","x":9.0,"y":5.96},{"s":"B3","x":9.9,"y":5.94},{"s":"B3","x":10.8,"y":5.95},{"s":"B3","x":11.7,"y":5.97},
{"s":"B3","x":3.0,"y":6.12},{"s":"B3","x":3.9,"y":6.14},{"s":"B3","x":4.8,"y":6.1},{"s":"B3","x":5.7,"y":6.13},{"s":"B3","x":6.6,"y":6.11},{"s":"B3","x":7.5,"y":6.12},{"s":"B3","x":8.4,"y":6.14},{"s":"B3","x":9.3,"y":6.1},{"s":"B3","x":10.2,"y":6.13},{"s":"B3","x":11.1,"y":6.11},{"s":"B3","x":12.0,"y":6.12},
{"s":"B3","x":4.0,"y":6.3},{"s":"B3","x":4.9,"y":6.32},{"s":"B3","x":5.8,"y":6.28},{"s":"B3","x":6.7,"y":6.31},{"s":"B3","x":7.6,"y":6.29},{"s":"B3","x":8.5,"y":6.3},{"s":"B3","x":9.4,"y":6.32},{"s":"B3","x":10.3,"y":6.28},{"s":"B3","x":11.2,"y":6.31},{"s":"B3","x":12.1,"y":6.29},
{"s":"B3","x":5.4,"y":6.48},{"s":"B3","x":6.3,"y":6.5},{"s":"B3","x":7.2,"y":6.46},{"s":"B3","x":8.1,"y":6.49},{"s":"B3","x":9.0,"y":6.47},{"s":"B3","x":9.9,"y":6.48},{"s":"B3","x":10.8,"y":6.5},{"s":"B3","x":11.7,"y":6.46},
{"s":"B3","x":6.5,"y":6.65},{"s":"B3","x":7.4,"y":6.67},{"s":"B3","x":8.3,"y":6.63},{"s":"B3","x":9.2,"y":6.66},{"s":"B3","x":10.1,"y":6.64},{"s":"B3","x":11.0,"y":6.65},{"s":"B3","x":11.9,"y":6.67},
{"s":"B3","x":7.5,"y":6.82},{"s":"B3","x":8.4,"y":6.84},{"s":"B3","x":9.3,"y":6.8},{"s":"B3","x":10.2,"y":6.83},{"s":"B3","x":11.1,"y":6.81},{"s":"B3","x":12.0,"y":6.82},
{"s":"B3","x":8.7,"y":7.0},{"s":"B3","x":9.6,"y":7.02},{"s":"B3","x":10.5,"y":6.98},{"s":"B3","x":11.4,"y":7.01},{"s":"B3","x":12.2,"y":6.99},
{"s":"B3","x":10.0,"y":7.18},{"s":"B3","x":10.9,"y":7.2},{"s":"B3","x":11.8,"y":7.16},{"s":"B3","x":11.2,"y":7.35},{"s":"B3","x":12.0,"y":7.37},
{"s":"B3","x":11.5,"y":5.3},{"s":"B3","x":12.3,"y":5.5},{"s":"B3","x":12.6,"y":5.8},{"s":"B3","x":12.6,"y":6.1},{"s":"B3","x":13.5,"y":5.8},{"s":"B3","x":13.8,"y":5.6},{"s":"B3","x":6.8,"y":5.04},
{"s":"B3","x":-4.5,"y":5.72},{"s":"B3","x":1.35,"y":7.17},{"s":"B3","x":7.2,"y":10.7},{"s":"B3","x":11.3,"y":8.17},{"s":"B3","x":12.9,"y":8.22},{"s":"B3","x":15.5,"y":8.72},{"s":"B3","x":16.7,"y":8.8},{"s":"B3","x":20.6,"y":9.36},{"s":"B3","x":20.7,"y":7.06},
{"s":"B3","x":25.5,"y":10.56},{"s":"B3","x":25.0,"y":9.88},{"s":"B3","x":22.8,"y":9.73},{"s":"B3","x":21.5,"y":9.4},{"s":"B3","x":21.9,"y":9.5},{"s":"B3","x":27.9,"y":9.97},{"s":"B3","x":29.6,"y":10.05},{"s":"B3","x":31.0,"y":10.05},{"s":"B3","x":29.9,"y":9.38},{"s":"B3","x":33.2,"y":9.6},{"s":"B3","x":34.8,"y":9.4},{"s":"B3","x":35.5,"y":9.35},{"s":"B3","x":36.2,"y":9.3},{"s":"B3","x":34.2,"y":9.05},{"s":"B3","x":35.0,"y":8.74},{"s":"B3","x":36.2,"y":7.43},
{"s":"B3","x":29.4,"y":8.06},{"s":"B3","x":29.9,"y":8.04},{"s":"B3","x":31.6,"y":7.75},{"s":"B3","x":24.1,"y":7.6},{"s":"B3","x":23.0,"y":7.03},{"s":"B3","x":24.6,"y":6.95},{"s":"B3","x":25.9,"y":6.93},{"s":"B3","x":27.5,"y":7.0},{"s":"B3","x":15.3,"y":8.87},
{"s":"B3","x":11.8,"y":7.3},{"s":"B3","x":13.2,"y":8.0},{"s":"B3","x":14.6,"y":7.6},{"s":"B3","x":16.5,"y":6.5},{"s":"B3","x":15.8,"y":6.05},{"s":"B3","x":17.0,"y":6.2},{"s":"B3","x":14.2,"y":6.4},{"s":"B3","x":18.0,"y":6.48},{"s":"B3","x":19.5,"y":5.8},{"s":"B3","x":14.5,"y":5.4},{"s":"B3","x":16.0,"y":5.5},{"s":"B3","x":13.4,"y":6.9}
]
},
"hconcat": [
{
 "width": 220, "height": 217,
 "layer": [
 {
  "data": {"name": "a"},
  "mark": {"type": "square", "size": 10, "opacity": 1},
  "encoding": {
   "x": {"field": "x", "type": "quantitative", "scale": {"domain": [-10, 50], "nice": false, "zero": false}, "axis": {"values": [0, 20, 40], "title": "Bladder Pressure (cm H2O)", "titleX": 243, "titleY": 58, "titleAlign": "center", "titleBaseline": "alphabetic", "labelPadding": 15}},
   "y": {"field": "y", "type": "quantitative", "scale": {"domain": [3, 15], "nice": false, "zero": false}, "axis": {"values": [5, 10, 15], "title": "Pelvic Nerve Activity (dB)", "labelPadding": 15, "titlePadding": 10}},
   "color": {"field": "s", "type": "nominal", "scale": {"domain": ["A1", "A2", "A3", "B1", "B2", "B3"], "range": ["#0000ff", "#00ff00", "#ff0000", "#000000", "#00ffff", "#ff00ff"]}, "legend": null}
  }
 },
 {
  "data": {"values": [{"t": "A"}]},
  "mark": {"type": "text", "fontSize": 25, "fontWeight": "bold", "align": "left", "baseline": "alphabetic", "color": "#000000"},
  "encoding": {"x": {"datum": -5.8}, "y": {"datum": 13.6}, "text": {"field": "t"}}
 }
 ]
},
{
 "width": 220, "height": 217,
 "layer": [
 {
  "data": {"name": "b"},
  "mark": {"type": "square", "size": 10, "opacity": 1},
  "encoding": {
   "x": {"field": "x", "type": "quantitative", "scale": {"domain": [-10, 50], "nice": false, "zero": false}, "axis": {"values": [0, 20, 40], "title": null, "labelPadding": 15}},
   "y": {"field": "y", "type": "quantitative", "scale": {"domain": [3, 15], "nice": false, "zero": false}, "axis": {"values": [5, 10, 15], "title": null, "labelPadding": 15}},
   "color": {"field": "s", "type": "nominal", "scale": {"domain": ["A1", "A2", "A3", "B1", "B2", "B3"], "range": ["#0000ff", "#00ff00", "#ff0000", "#000000", "#00ffff", "#ff00ff"]}, "legend": null}
  }
 },
 {
  "data": {"values": [{"t": "B"}]},
  "mark": {"type": "text", "fontSize": 25, "fontWeight": "bold", "align": "left", "baseline": "alphabetic", "color": "#000000"},
  "encoding": {"x": {"datum": -5.8}, "y": {"datum": 13.6}, "text": {"field": "t"}}
 }
 ]
}
]
}
